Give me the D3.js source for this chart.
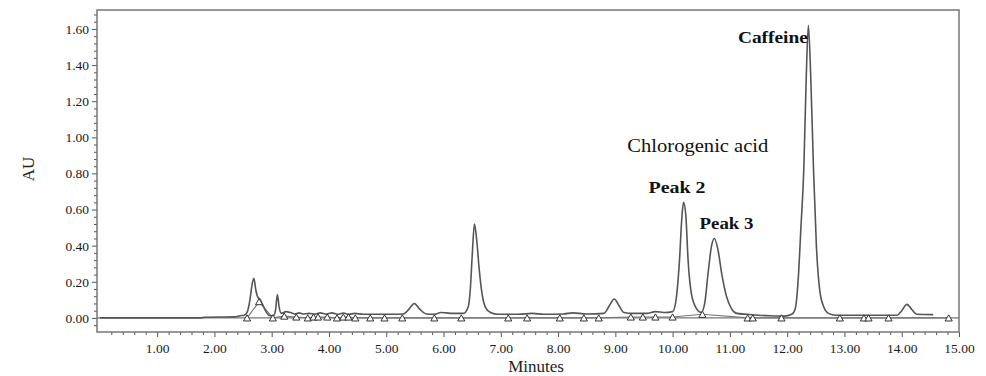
<!DOCTYPE html>
<html>
<head>
<meta charset="utf-8">
<script src="https://cdn.jsdelivr.net/npm/d3@7"></script>
<style>
  html, body { margin: 0; padding: 0; background: #fff; }
  svg { display: block; }
  text { font-family: "Liberation Serif", "Times New Roman", serif; }
</style>
</head>
<body>
<svg id="chart" width="986" height="376"></svg>
<script>
// ---- data ----
const xTickValues = [1, 2, 3, 4, 5, 6, 7, 8, 9, 10, 11, 12, 13, 14, 15];
const yTickValues = [0, 0.2, 0.4, 0.6, 0.8, 1.0, 1.2, 1.4, 1.6];
const xLabel = "Minutes";
const yLabel = "AU";

// chromatogram trace: [minutes, AU]
const traceTime = [0.0, 1.78, 1.82, 2.35, 2.45, 2.52, 2.57, 2.62, 2.66, 2.69, 2.72, 2.75, 2.79, 2.84, 2.90, 2.97,
  3.04, 3.07, 3.10, 3.13, 3.17, 3.25, 3.33, 3.40, 3.48, 3.55, 3.65, 3.75, 3.85, 3.95, 4.05, 4.15, 4.25, 4.35, 4.45,
  4.60, 5.00, 5.30, 5.40, 5.49, 5.58, 5.70, 5.85, 5.95, 6.05, 6.15, 6.35, 6.43, 6.47, 6.50, 6.54, 6.58, 6.62, 6.67,
  6.73, 6.82, 6.95, 7.30, 7.55, 7.75, 8.10, 8.25, 8.50, 8.80, 8.90, 8.98, 9.06, 9.15, 9.30, 9.55, 9.70, 9.85, 10.00,
  10.06, 10.12, 10.16, 10.19, 10.23, 10.27, 10.33, 10.42, 10.50, 10.56, 10.62, 10.68, 10.73, 10.79, 10.86, 10.94,
  11.03, 11.12, 11.30, 11.50, 11.70, 11.95, 12.08, 12.14, 12.19, 12.24, 12.29, 12.33, 12.37, 12.41, 12.46, 12.51,
  12.57, 12.64, 12.72, 12.85, 13.50, 13.92, 14.00, 14.09, 14.18, 14.26, 14.55];
const traceAU = [0.0, 0.0, 0.004, 0.006, 0.012, 0.015, 0.03, 0.10, 0.19, 0.22, 0.16, 0.12, 0.105, 0.075, 0.035, 0.012,
  0.015, 0.05, 0.13, 0.06, 0.025, 0.035, 0.03, 0.022, 0.028, 0.022, 0.025, 0.022, 0.028, 0.022, 0.028, 0.02, 0.027, 0.02, 0.025,
  0.02, 0.02, 0.022, 0.05, 0.08, 0.05, 0.022, 0.02, 0.03, 0.028, 0.025, 0.025, 0.06, 0.17, 0.34, 0.52, 0.43, 0.28, 0.14,
  0.06, 0.03, 0.02, 0.02, 0.025, 0.02, 0.022, 0.028, 0.022, 0.025, 0.07, 0.105, 0.07, 0.03, 0.025, 0.025, 0.035, 0.03, 0.035,
  0.10, 0.32, 0.55, 0.64, 0.57, 0.32, 0.13, 0.05, 0.03, 0.08, 0.25, 0.40, 0.44, 0.38, 0.24, 0.12,
  0.05, 0.025, 0.02, 0.015, 0.012, 0.01, 0.02, 0.05, 0.20, 0.50, 0.82, 1.30, 1.62, 1.35, 0.82, 0.40,
  0.15, 0.06, 0.025, 0.015, 0.015, 0.015, 0.04, 0.075, 0.045, 0.02, 0.018];

// integration markers (open triangles): [minutes, AU]
const markerTime = [2.57, 2.78, 3.02, 3.22, 3.43, 3.63, 3.73, 3.81, 3.97, 4.14, 4.25, 4.34, 4.46, 4.72, 4.97, 5.28,
  5.84, 6.31, 7.13, 7.46, 8.03, 8.45, 8.71, 9.27, 9.48, 9.70, 10.00, 10.52, 11.31, 11.40, 11.90, 12.92, 13.34, 13.42,
  13.77, 14.82];
const markerAU = [0.0, 0.09, 0.0, 0.01, 0.005, 0.0, 0.005, 0.005, 0.005, 0.0, 0.005, 0.005, 0.0, 0.0, 0.0, 0.0,
  0.0, 0.0, 0.0, 0.0, 0.0, 0.0, 0.0, 0.005, 0.005, 0.005, 0.005, 0.02, 0.0, 0.0, 0.0, 0.0, 0.0, 0.0,
  0.0, 0.0];

// peak annotations
const peakNames = ["Caffeine", "Chlorogenic acid", "Peak 2", "Peak 3"];
const peakLabelTime = [11.14, 9.21, 9.58, 10.47];
const peakLabelAU = [1.52, 0.92, 0.69, 0.49];
const peakBold = [true, false, true, true];
const peakLabelWidth = [70, 141, 57, 54];

// ---- drawing ----
const svg = d3.select("#chart");
const frame = { left: 97, right: 959, top: 10, bottom: 332 };

const x = d3.scaleLinear().domain([-0.05, 15]).range([frame.left, frame.right]);
const y = d3.scaleLinear().domain([-0.078, 1.705]).range([frame.bottom, frame.top]);

const fmt = d3.format(".2f");
const ink = "#555";

// minor ticks
const xMinor = d3.range(0.2, 15.001, 0.2).filter(v => Math.abs(v - Math.round(v)) > 1e-6);
const yMinor = d3.range(-0.04, 1.7, 0.04).filter(v => Math.abs(v * 5 - Math.round(v * 5)) > 1e-6);

svg.append("g")
  .attr("transform", `translate(0,${frame.bottom})`)
  .call(d3.axisBottom(x).tickValues(xMinor).tickSize(3).tickFormat(""))
  .call(g => g.select(".domain").remove())
  .call(g => g.selectAll("line").attr("stroke", ink));

svg.append("g")
  .attr("transform", `translate(${frame.left},0)`)
  .call(d3.axisLeft(y).tickValues(yMinor).tickSize(3).tickFormat(""))
  .call(g => g.select(".domain").remove())
  .call(g => g.selectAll("line").attr("stroke", ink));

// major axes
svg.append("g")
  .attr("transform", `translate(0,${frame.bottom})`)
  .call(d3.axisBottom(x).tickValues(xTickValues).tickSize(5).tickPadding(6).tickFormat(fmt))
  .call(g => g.select(".domain").remove())
  .call(g => g.selectAll("line").attr("stroke", ink))
  .call(g => g.selectAll("text").attr("font-size", 13.5).attr("fill", "#1a1a1a")
    .style("font-family", '"Liberation Serif", serif'));

svg.append("g")
  .attr("transform", `translate(${frame.left},0)`)
  .call(d3.axisLeft(y).tickValues(yTickValues).tickSize(5).tickPadding(3).tickFormat(fmt))
  .call(g => g.select(".domain").remove())
  .call(g => g.selectAll("line").attr("stroke", ink))
  .call(g => g.selectAll("text").attr("font-size", 13.5).attr("fill", "#1a1a1a")
    .style("font-family", '"Liberation Serif", serif'));

// frame
svg.append("rect")
  .attr("x", frame.left).attr("y", frame.top)
  .attr("width", frame.right - frame.left).attr("height", frame.bottom - frame.top)
  .attr("fill", "none").attr("stroke", "#777").attr("stroke-width", 1.5);

// zero line
svg.append("line")
  .attr("x1", frame.left).attr("x2", frame.right)
  .attr("y1", y(0)).attr("y2", y(0))
  .attr("stroke", "#777").attr("stroke-width", 1.3);

// integration baseline through markers
const markers = markerTime.map((t, i) => [t, markerAU[i]]);
svg.append("path")
  .datum(markers)
  .attr("fill", "none").attr("stroke", "#777").attr("stroke-width", 1.1)
  .attr("d", d3.line().x(d => x(d[0])).y(d => y(d[1])));

// trace
const trace = traceTime.map((t, i) => [t, traceAU[i]]);
svg.append("path")
  .datum(trace)
  .attr("fill", "none").attr("stroke", ink).attr("stroke-width", 1.6)
  .attr("stroke-linejoin", "round")
  .attr("d", d3.line().x(d => x(d[0])).y(d => y(d[1])).curve(d3.curveMonotoneX));

// markers
svg.append("g").selectAll("path")
  .data(markers)
  .join("path")
  .attr("transform", d => `translate(${x(d[0])},${y(d[1]) + 1})`)
  .attr("d", d3.symbol(d3.symbolTriangle, 22))
  .attr("fill", "#fff").attr("stroke", "#333").attr("stroke-width", 1);

// peak labels
svg.append("g").selectAll("text")
  .data(peakNames)
  .join("text")
  .attr("x", (d, i) => x(peakLabelTime[i]))
  .attr("y", (d, i) => y(peakLabelAU[i]))
  .attr("font-size", (d, i) => peakBold[i] ? 17 : 19)
  .attr("font-weight", (d, i) => peakBold[i] ? "bold" : "normal")
  .attr("textLength", (d, i) => peakLabelWidth[i])
  .attr("lengthAdjust", "spacingAndGlyphs")
  .attr("fill", "#111")
  .text(d => d);

// axis titles
svg.append("text")
  .attr("x", (frame.left + frame.right) / 2 + 8).attr("y", 372)
  .attr("text-anchor", "middle").attr("font-size", 17).attr("fill", "#222")
  .text(xLabel);

svg.append("text")
  .attr("transform", `translate(34,169) rotate(-90)`)
  .attr("text-anchor", "middle").attr("font-size", 17).attr("fill", "#222")
  .text(yLabel);
</script>
</body>
</html>
